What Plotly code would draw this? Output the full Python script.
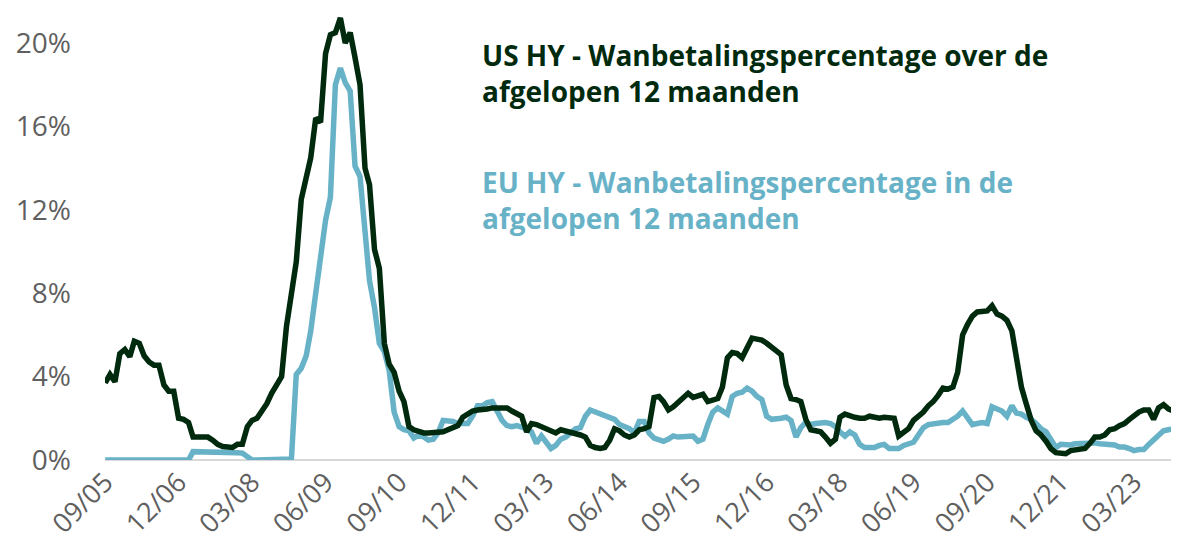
import pandas as pd
import plotly.graph_objects as go

start_month = "2005-09-01"
n_months = 220

us_hy = [
    3.7, 4.1, 3.75, 5.1, 5.3, 4.95, 5.7, 5.6, 5.0, 4.7,
    4.55, 4.55, 3.6, 3.3, 3.3, 2.0, 1.95, 1.8, 1.1, 1.1,
    1.1, 1.1, 0.95, 0.75, 0.65, 0.65, 0.6, 0.75, 0.75, 1.6,
    1.9, 2.0, 2.3, 2.7, 3.2, 3.6, 4.0, 6.4, 7.8, 9.5,
    12.5, 13.6, 14.5, 16.4, 16.2, 19.5, 20.4, 20.5, 21.2, 20.0,
    20.5, 19.3, 18.0, 14.0, 13.2, 10.1, 9.2, 5.6, 4.6, 4.2,
    3.3, 2.8, 1.6, 1.45, 1.35, 1.3, 1.3, 1.3, 1.3, 1.35,
    1.45, 1.55, 1.65, 2.05, 2.2, 2.35, 2.4, 2.4, 2.45, 2.5,
    2.5, 2.55, 2.5, 2.35, 2.2, 2.1, 1.35, 1.75, 1.7, 1.6,
    1.45, 1.4, 1.3, 1.45, 1.4, 1.3, 1.25, 1.2, 1.1, 0.7,
    0.6, 0.55, 0.6, 0.95, 1.5, 1.4, 1.2, 1.1, 1.2, 1.45,
    1.5, 1.6, 3.0, 3.05, 2.8, 2.4, 2.55, 2.8, 3.0, 3.2,
    3.0, 3.1, 3.15, 2.8, 2.85, 2.95, 3.5, 4.9, 5.15, 5.1,
    4.9, 5.4, 5.85, 5.8, 5.75, 5.6, 5.4, 5.2, 5.05, 3.6,
    2.95, 2.9, 2.8, 1.95, 1.45, 1.4, 1.35, 1.1, 0.8, 1.0,
    2.05, 2.2, 2.1, 2.05, 2.0, 2.0, 2.1, 2.05, 2.0, 2.05,
    2.05, 2.0, 1.15, 1.35, 1.5, 1.9, 2.1, 2.3, 2.6, 2.8,
    3.1, 3.45, 3.4, 3.5, 4.2, 6.0, 6.5, 6.9, 7.1, 7.15,
    7.15, 7.4, 7.0, 6.9, 6.7, 6.2, 5.0, 3.5, 2.7, 1.9,
    1.4, 1.2, 0.9, 0.55, 0.35, 0.3, 0.3, 0.45, 0.5, 0.5,
    0.55, 0.8, 1.1, 1.1, 1.2, 1.45, 1.5, 1.65, 1.75, 1.95,
    2.15, 2.3, 2.4, 2.4, 1.95, 2.5, 2.65, 2.45, 2.35, 2.25,
]

eu_hy = [
    0.0, 0.0, 0.0, 0.0, 0.0, 0.0, 0.0, 0.0, 0.0, 0.0,
    0.0, 0.0, 0.0, 0.0, 0.0, 0.0, 0.0, 0.0, 0.4, 0.4,
    0.4, 0.4, 0.4, 0.4, 0.4, 0.38, 0.37, 0.35, 0.33, 0.15,
    0.0, 0.0, 0.0, 0.0, 0.0, 0.0, 0.0, 0.0, 0.05, 4.1,
    4.4, 5.0, 6.2, 8.0, 9.9, 11.5, 12.6, 18.0, 18.8, 18.1,
    17.7, 14.1, 13.6, 11.3, 8.6, 7.3, 5.6, 5.2, 4.3, 2.3,
    1.6, 1.45, 1.4, 1.05, 1.2, 1.1, 0.95, 1.0, 1.3, 1.9,
    1.9, 1.85, 1.75, 1.75, 1.75, 2.1, 2.6, 2.6, 2.75, 2.8,
    2.4, 1.9, 1.65, 1.6, 1.65, 1.6, 1.5, 1.35, 0.8, 1.15,
    0.85, 0.55, 0.7, 1.0, 1.1, 1.3, 1.5, 1.55, 2.1, 2.4,
    2.3, 2.2, 2.15, 2.05, 1.95, 1.7, 1.6, 1.5, 1.3, 1.85,
    1.85, 1.3, 1.05, 0.95, 0.9, 1.0, 1.15, 1.1, 1.1, 1.1,
    1.15, 0.9, 1.0, 1.7, 2.3, 2.5, 2.35, 2.2, 3.05, 3.2,
    3.25, 3.45, 3.3, 3.05, 2.9, 2.1, 1.95, 1.95, 2.0, 2.05,
    1.9, 1.1, 1.55, 1.8, 1.7, 1.75, 1.8, 1.8, 1.75, 1.6,
    1.35, 1.15, 1.35, 1.2, 0.75, 0.6, 0.6, 0.6, 0.7, 0.75,
    0.55, 0.55, 0.55, 0.7, 0.8, 0.85, 1.2, 1.55, 1.7, 1.75,
    1.75, 1.8, 1.8, 1.95, 2.1, 2.35, 2.0, 1.7, 1.75, 1.8,
    1.75, 2.55, 2.45, 2.35, 2.1, 2.6, 2.25, 2.2, 2.05, 1.95,
    1.75, 1.5, 1.35, 1.0, 0.6, 0.75, 0.72, 0.72, 0.78, 0.8,
    0.82, 0.85, 0.82, 0.78, 0.77, 0.75, 0.72, 0.62, 0.62, 0.55,
    0.45, 0.5, 0.5, 0.75, 0.95, 1.15, 1.4, 1.45, 1.5, 1.55,
]

y_ticks = [0, 4, 8, 12, 16, 20]
x_tick_labels = ["09/05", "12/06", "03/08", "06/09", "09/10", "12/11", "03/13",
                 "06/14", "09/15", "12/16", "03/18", "06/19", "09/20", "12/21", "03/23"]

us_label = "US HY - Wanbetalingspercentage over de<br>afgelopen 12 maanden"
eu_label = "EU HY - Wanbetalingspercentage in de<br>afgelopen 12 maanden"

dates = pd.date_range(start_month, periods=n_months, freq="MS")
tick_dates = pd.date_range(start_month, periods=len(x_tick_labels), freq="15MS")

DARK = "#002a0e"
LIGHT = "#68b2c8"
GRAY = "#5f5f5f"

fig = go.Figure()
fig.add_trace(go.Scatter(x=dates, y=eu_hy, mode="lines",
                         line=dict(color=LIGHT, width=5.5), name="EU HY"))
fig.add_trace(go.Scatter(x=dates, y=us_hy, mode="lines",
                         line=dict(color=DARK, width=5.5), name="US HY"))

ann_x = 0.349
fig.add_annotation(text=us_label, xref="paper", yref="paper", x=ann_x, y=0.856,
                   xanchor="left", yanchor="middle", align="left", showarrow=False,
                   font=dict(family="Open Sans", size=28, color=DARK, weight="bold"))
fig.add_annotation(text=eu_label, xref="paper", yref="paper", x=ann_x, y=0.575,
                   xanchor="left", yanchor="middle", align="left", showarrow=False,
                   font=dict(family="Open Sans", size=28, color=LIGHT, weight="bold"))

# page body has an 8px margin, so the figure is drawn 8px smaller and offset
fig.update_layout(
    width=1171, height=548,
    margin=dict(l=97, r=0, t=0, b=96),
    paper_bgcolor="white", plot_bgcolor="white",
    showlegend=False,
    font=dict(family="Open Sans", color=GRAY),
)
fig.update_xaxes(
    range=[dates[0] - pd.Timedelta(days=1), dates[-1] + pd.Timedelta(days=5)],
    tickmode="array", tickvals=tick_dates, ticktext=x_tick_labels,
    tickangle=-45, tickfont=dict(size=27, color=GRAY, family="Open Sans"),
    showgrid=False, zeroline=False, showline=False, ticks="",
    automargin=False,
)
fig.update_yaxes(
    range=[0, 21.68], tickmode="array", tickvals=y_ticks,
    ticktext=[f"{v}%" for v in y_ticks],
    tickfont=dict(size=28, color=GRAY, family="Open Sans"),
    showgrid=False, zeroline=True, zerolinecolor="#d9d9d9", zerolinewidth=2,
    ticklabelstandoff=33, ticks="", automargin=False,
)

fig.write_html("out.html")
